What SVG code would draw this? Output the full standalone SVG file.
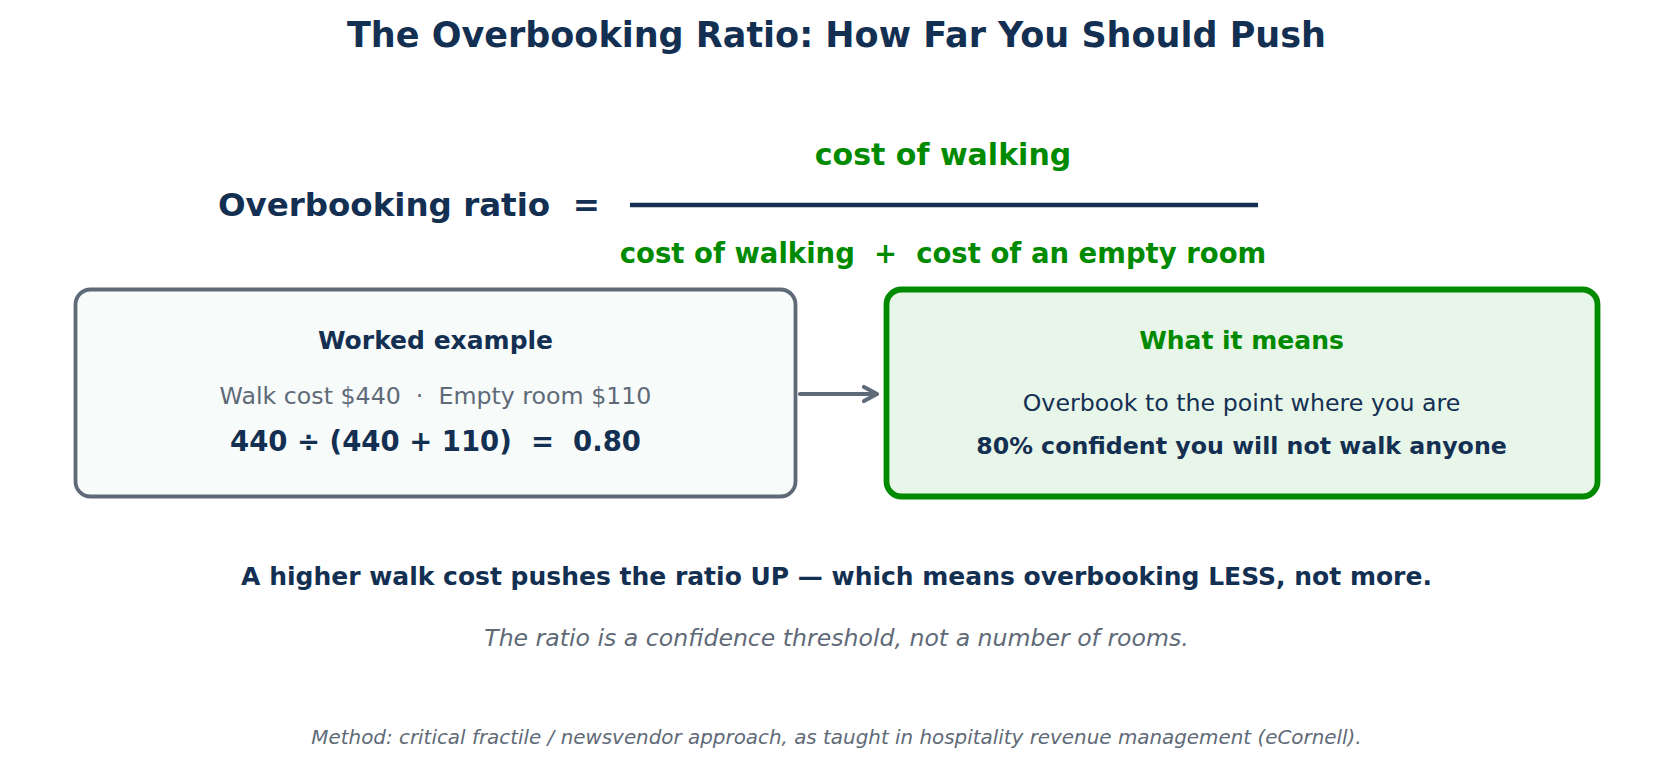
<svg xmlns="http://www.w3.org/2000/svg" width="1673" height="765" viewBox="0 0 1673 765">
<style>
text{font-family:"DejaVu Sans",sans-serif;text-anchor:middle}
.navy{fill:#132f52}
.green{fill:#008a00}
.gray{fill:#5f6a78}
.b{font-weight:bold}
.i{font-style:italic}
</style>
<rect width="1673" height="765" fill="#ffffff"/>
<text class="navy b" x="836.5" y="47" font-size="35">The Overbooking Ratio: How Far You Should Push</text>
<g id="formula">
<text class="navy b" x="600" y="216" font-size="32.5" style="text-anchor:end" xml:space="preserve">Overbooking ratio  =</text>
<text class="green b" x="943" y="165" font-size="30">cost of walking</text>
<line x1="630" y1="205" x2="1258" y2="205" stroke="#132f52" stroke-width="4.5"/>
<text class="green b" x="943" y="263" font-size="27.5" xml:space="preserve">cost of walking  +  cost of an empty room</text>
</g>
<g id="worked">
<rect x="75.5" y="289.5" width="720" height="207" rx="15" fill="#f7fbfa" stroke="#5f6a78" stroke-width="3.8"/>
<text class="navy b" x="435.5" y="349" font-size="25">Worked example</text>
<text class="gray" x="435.5" y="404" font-size="23.7" xml:space="preserve">Walk cost $440  ·  Empty room $110</text>
<text class="navy b" x="435.5" y="451" font-size="27.5" xml:space="preserve">440 ÷ (440 + 110)  =  0.80</text>
</g>
<g id="means">
<rect x="886.5" y="289.5" width="711" height="207" rx="15" fill="#e8f5e9" stroke="#008a00" stroke-width="5.8"/>
<text class="green b" x="1241.5" y="349" font-size="25">What it means</text>
<text class="navy" x="1241.5" y="411" font-size="23.7">Overbook to the point where you are</text>
<text class="navy b" x="1241.5" y="453.5" font-size="23.7">80% confident you will not walk anyone</text>
</g>
<g id="connectors" fill="none" stroke="#5f6a78" stroke-width="4.2" stroke-linecap="round" stroke-linejoin="round">
<line x1="800" y1="394" x2="876" y2="394"/>
<polyline points="864,387 877,394 864,401"/>
</g>
<g id="notes">
<text class="navy b" x="836.5" y="585" font-size="25">A higher walk cost pushes the ratio UP — which means overbooking LESS, not more.</text>
<text class="gray i" x="836.5" y="645.5" font-size="23.6">The ratio is a confidence threshold, not a number of rooms.</text>
<text class="gray i" x="836.5" y="743.5" font-size="19.9">Method: critical fractile / newsvendor approach, as taught in hospitality revenue management (eCornell).</text>
</g>
</svg>
